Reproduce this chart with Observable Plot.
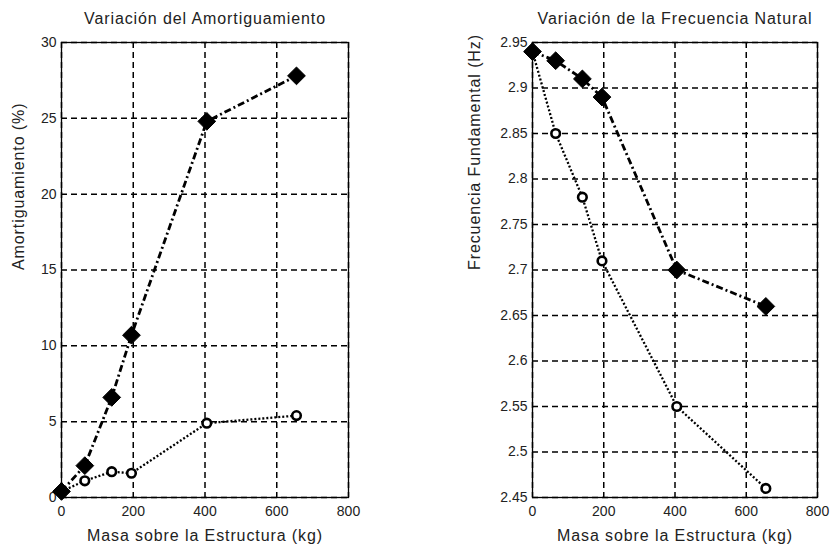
<!DOCTYPE html>
<html><head><meta charset="utf-8">
<script src="https://cdn.jsdelivr.net/npm/d3@7"></script>
<script src="https://cdn.jsdelivr.net/npm/@observablehq/plot@0.6"></script>
<style>
body{margin:0;background:#fff;}
#c{display:flex;width:831px;height:544px;}
svg{font-family:"Liberation Sans",Arial,sans-serif;}
</style>
</head><body><div id="c"></div>
<script>
const masa = [0, 65, 140, 195, 405, 655];
const amortConMasa = [0.4, 2.1, 6.6, 10.7, 24.8, 27.8];
const amortSinMasa = [0.4, 1.1, 1.7, 1.6, 4.9, 5.4];
const frecConMasa = [2.94, 2.93, 2.91, 2.89, 2.70, 2.66];
const frecSinMasa = [2.94, 2.85, 2.78, 2.71, 2.55, 2.46];
const xTicks = [0, 200, 400, 600, 800];
const amortTicks = [0, 5, 10, 15, 20, 25, 30];
const frecTicks = [2.45, 2.5, 2.55, 2.6, 2.65, 2.7, 2.75, 2.8, 2.85, 2.9, 2.95];
const titles = ["Variación del Amortiguamiento", "Variación de la Frecuencia Natural"];
const yLabels = ["Amortiguamiento (%)", "Frecuencia Fundamental (Hz)"];
const xLabel = "Masa sobre la Estructura (kg)";

function panel({width, marginLeft, marginRight, yDomain, yTicks, filled, open, title, yLabel, yLabelDx}) {
  const A = masa.map((m, i) => ({m, v: filled[i]}));
  const B = masa.map((m, i) => ({m, v: open[i]}));
  const fmt = d => String(+d.toFixed(2));
  const svg = Plot.plot({
    width, height: 544,
    marginLeft, marginRight, marginTop: 42, marginBottom: 47,
    style: {fontFamily: "Liberation Sans, Arial, sans-serif", fontSize: "14px", color: "#222", background: "#fff"},
    x: {domain: [0, 800], ticks: xTicks},
    y: {domain: yDomain, ticks: yTicks},
    marks: [
      Plot.gridX(xTicks, {stroke: "#000", strokeOpacity: 1, strokeDasharray: "6,4", strokeWidth: 1.5}),
      Plot.gridY(yTicks, {stroke: "#000", strokeOpacity: 1, strokeDasharray: "6,4", strokeWidth: 1.5}),
      Plot.frame({stroke: "#000", strokeWidth: 1.3}),
      Plot.axisX(xTicks, {anchor: "bottom", tickSize: 0, tickPadding: 9, fontSize: 14, label: null}),
      Plot.axisY(yTicks, {anchor: "left", tickSize: 0, tickPadding: 5, fontSize: 14, tickFormat: fmt, label: null}),
      Plot.line(B, {x: "m", y: "v", stroke: "#000", strokeWidth: 2.3, strokeDasharray: "2,2", strokeLinecap: "butt"}),
      Plot.line(A, {x: "m", y: "v", stroke: "#000", strokeWidth: 2.8, strokeDasharray: "7,3,2,3", strokeLinecap: "butt"}),
      Plot.dot(B, {x: "m", y: "v", r: 4.3, stroke: "#000", strokeWidth: 2.6, fill: "#fff"}),
      Plot.dot(A, {x: "m", y: "v", symbol: "diamond2", r: 8, fill: "#000", stroke: "#000", strokeWidth: 1}),
      Plot.text([title], {frameAnchor: "top", lineAnchor: "middle", dy: -24, fontSize: 16, fill: "#222"}),
      Plot.text([xLabel], {frameAnchor: "bottom", lineAnchor: "middle", dy: 38, fontSize: 16, fill: "#222"}),
      Plot.text([yLabel], {frameAnchor: "left", rotate: -90, lineAnchor: "middle", dx: yLabelDx, fontSize: 16, fill: "#222"})
    ]
  });
  d3.select(svg).selectAll("text").filter(function () {
    const t = this.textContent;
    return t === title || t === xLabel || t === yLabel;
  }).style("letter-spacing", "0.9px");
  return svg;
}

const c = document.getElementById("c");
c.append(panel({width: 415, marginLeft: 61, marginRight: 67, yDomain: [0, 30], yTicks: amortTicks,
  filled: amortConMasa, open: amortSinMasa, title: titles[0], yLabel: yLabels[0], yLabelDx: -43}));
c.append(panel({width: 416, marginLeft: 117, marginRight: 14, yDomain: [2.45, 2.95], yTicks: frecTicks,
  filled: frecConMasa, open: frecSinMasa, title: titles[1], yLabel: yLabels[1], yLabelDx: -58}));
</script>
</body></html>
